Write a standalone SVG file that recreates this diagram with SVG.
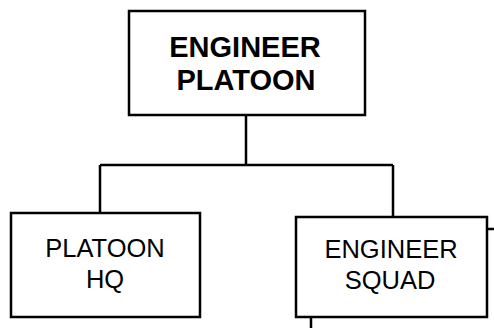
<svg xmlns="http://www.w3.org/2000/svg" width="494" height="328" viewBox="0 0 494 328">
<style>
.box{fill:#fff;stroke:#000;stroke-width:2.5}
.ln{fill:none;stroke:#000;stroke-width:2.5}
.t{font-family:"Liberation Sans",Arial,sans-serif;text-anchor:middle;fill:#000}
.b{font-weight:bold;font-size:29px}
.r{font-size:25.5px}
</style>
<rect width="494" height="328" fill="#fff"/>
<g id="connectors">
<path class="ln" d="M246 115V165M100 165H393M100 165V213M393 165V217"/>
<path class="ln" d="M487 229H494M311 317V328"/>
</g>
<g id="engineer-platoon">
<rect class="box" x="129" y="11" width="236" height="104"/>
<text class="t b" x="245" y="57">ENGINEER</text>
<text class="t b" x="246" y="90">PLATOON</text>
</g>
<g id="platoon-hq">
<rect class="box" x="11" y="213" width="189" height="104"/>
<text class="t r" x="105" y="257">PLATOON</text>
<text class="t r" x="105" y="288">HQ</text>
</g>
<g id="engineer-squad">
<rect class="box" x="296" y="217" width="191" height="100"/>
<text class="t r" x="391" y="258">ENGINEER</text>
<text class="t r" x="390" y="289">SQUAD</text>
</g>
</svg>
